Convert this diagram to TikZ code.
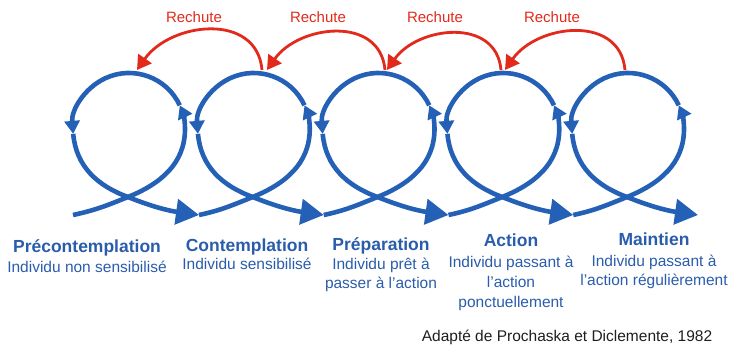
\documentclass[tikz,border=0pt]{standalone}
\usepackage{fontspec}
\setmainfont{Liberation Sans}
\usetikzlibrary{arrows.meta}
\definecolor{loopblue}{RGB}{36,96,182}
\definecolor{textblue}{RGB}{42,92,172}
\definecolor{relapsered}{RGB}{226,42,28}
\definecolor{sourcegray}{RGB}{30,30,30}
\begin{document}
\begin{tikzpicture}[x=1pt,y=1pt,
  loopline/.style={draw=loopblue,line width=4.6pt},
  smalltip/.style={-{Triangle[length=13pt,width=15pt]}},
  bigtip/.style={-{Triangle[length=23pt,width=25pt]}},
  relapse/.style={draw=relapsered,line width=2.8pt,-{Triangle[length=14pt,width=16pt]}},
  relapselabel/.style={text=relapsered,font=\fontsize{15}{18}\selectfont,anchor=base,inner sep=0pt},
  stagetitle/.style={text=textblue,font=\fontsize{17.5}{20}\selectfont\bfseries,anchor=base,inner sep=0pt},
  stagesub/.style={text=textblue,font=\fontsize{15.5}{20}\selectfont,anchor=base,inner sep=0pt},
]
\useasboundingbox (0,0) rectangle (731,348);
% blue loops
\coordinate (E0) at (73,133);
\foreach \k/\c [remember=\k as \p (initially 0)] in {1/128,2/252.75,3/377.5,4/502.25,5/627}{
  \coordinate (X\k) at (\c,151);
  \coordinate (Ra\k) at (\c+57,219);
  \coordinate (R\k) at (\c+51.75,242.67);
  \coordinate (L\k) at (\c-54.79,214.12);
  \coordinate (E\k) at (\c+71,133);
  \draw[loopline,smalltip] (E\p) to[out=12,in=202] (X\k) to[out=22,in=-90] (Ra\k) arc[start angle=0,end angle=25,radius=56];
  \draw[loopline,smalltip] (R\k) arc[start angle=25,end angle=185,radius=56];
  \draw[loopline,bigtip] (L\k) to[out=-85,in=160] (X\k) to[out=-22,in=172] (E\k);
}
% relapse arcs
\coordinate (RS1) at (262,278); \coordinate (RT1) at (137,278);
\coordinate (RS2) at (385,278); \coordinate (RT2) at (267,278);
\coordinate (RS3) at (501,278); \coordinate (RT3) at (387,278);
\coordinate (RS4) at (625,278); \coordinate (RT4) at (505,278);
\foreach \k in {1,2,3,4}{
  \draw[relapse] (RS\k) to[out=95,in=55,looseness=1.2] (RT\k);
}
\node[relapselabel] (rl1) at (194,325) {Rechute};
\node[relapselabel] (rl2) at (318,325) {Rechute};
\node[relapselabel] (rl3) at (435,325) {Rechute};
\node[relapselabel] (rl4) at (552,325) {Rechute};
% stage texts
\node[stagetitle] (t1) at (87,95) {Précontemplation};
\node[stagesub] (s1a) at (87,75) {Individu non sensibilisé};
\node[stagetitle] (t2) at (247,96) {Contemplation};
\node[stagesub] (s2a) at (247,78) {Individu sensibilisé};
\node[stagetitle] (t3) at (381,97) {Préparation};
\node[stagesub] (s3a) at (381,78) {Individu prêt à};
\node[stagesub] (s3b) at (381,59) {passer à l'action};
\node[stagetitle] (t4) at (511,101) {Action};
\node[stagesub] (s4a) at (511,80) {Individu passant à};
\node[stagesub] (s4b) at (511,60) {l'action};
\node[stagesub] (s4c) at (511,40) {ponctuellement};
\node[stagetitle] (t5) at (654,102) {Maintien};
\node[stagesub] (s5a) at (654,81) {Individu passant à};
\node[stagesub] (s5b) at (654,62) {l'action régulièrement};
\node[anchor=base,inner sep=0pt,text=sourcegray,font=\fontsize{15.5}{18}\selectfont] (src) at (567,6) {Adapté de Prochaska et Diclemente, 1982};
\end{tikzpicture}
\end{document}
